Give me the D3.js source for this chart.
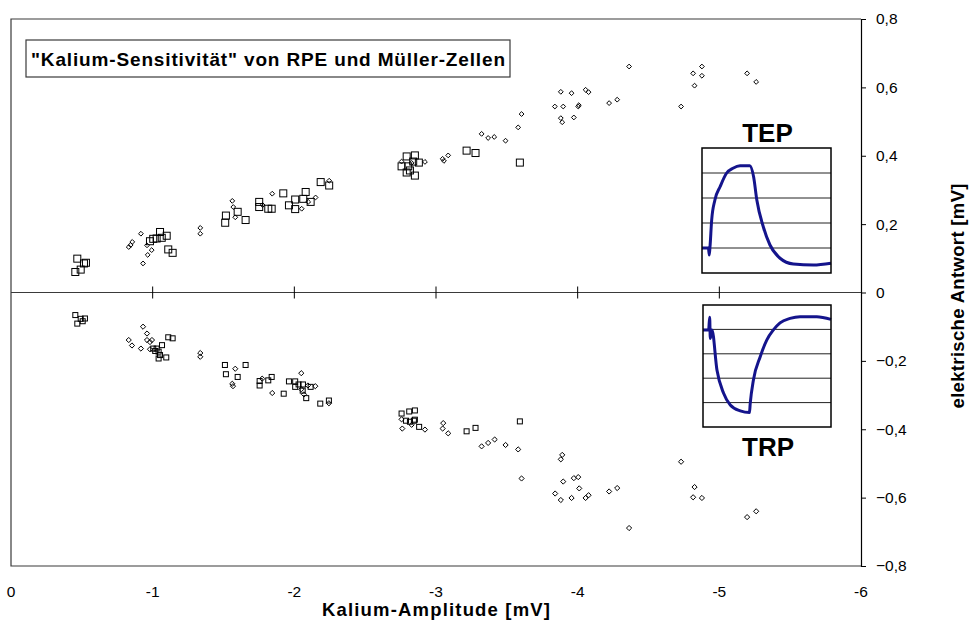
<!DOCTYPE html>
<html>
<head>
<meta charset="utf-8">
<script src="https://cdn.jsdelivr.net/npm/d3@7"></script>
<style>
  body { margin: 0; background: #fff; }
  svg { display: block; }
  text { font-family: "Liberation Sans", Arial, sans-serif; fill: #000; }
</style>
</head>
<body>
<script>
// Kalium amplitude (x, mV) vs. electrical response (y, mV)
// TEP responses (upper half)
const tepSquares = [
  [-0.468, 0.099], [-0.454, 0.060], [-0.492, 0.067], [-0.515, 0.085], [-0.529, 0.087],
  [-1.052, 0.177], [-1.004, 0.157], [-1.028, 0.158], [-1.064, 0.160], [-1.099, 0.166],
  [-0.981, 0.150], [-1.110, 0.126], [-1.141, 0.116], [-1.517, 0.225], [-1.512, 0.204],
  [-1.600, 0.236], [-1.656, 0.212], [-1.752, 0.265], [-1.752, 0.250], [-1.816, 0.245],
  [-1.840, 0.245], [-1.922, 0.290], [-1.962, 0.255], [-2.006, 0.272], [-2.006, 0.244],
  [-2.080, 0.294], [-2.063, 0.274], [-2.115, 0.265], [-2.186, 0.323], [-2.246, 0.313],
  [-2.793, 0.398], [-2.851, 0.401], [-2.757, 0.369], [-2.804, 0.369], [-2.839, 0.383],
  [-2.879, 0.380], [-2.793, 0.351], [-2.851, 0.342], [-2.816, 0.357], [-3.216, 0.415],
  [-3.279, 0.408], [-3.592, 0.380]
];
const tepDiamonds = [
  [-0.917, 0.172], [-0.856, 0.148], [-0.845, 0.139], [-0.831, 0.133], [-0.960, 0.138],
  [-0.993, 0.124], [-0.965, 0.110], [-0.932, 0.085], [-1.336, 0.189], [-1.336, 0.172],
  [-1.562, 0.268], [-1.569, 0.250], [-1.583, 0.220], [-1.844, 0.289], [-1.776, 0.256],
  [-2.150, 0.278], [-2.052, 0.245], [-2.098, 0.265], [-2.246, 0.327], [-2.757, 0.383],
  [-2.828, 0.379], [-2.922, 0.382], [-3.047, 0.391], [-3.056, 0.385], [-3.086, 0.401],
  [-3.322, 0.464], [-3.368, 0.452], [-3.411, 0.455], [-3.491, 0.444], [-3.580, 0.483],
  [-3.604, 0.522], [-3.881, 0.587], [-3.957, 0.583], [-4.056, 0.593], [-4.077, 0.586],
  [-3.839, 0.544], [-3.898, 0.544], [-4.004, 0.544], [-4.008, 0.548], [-3.881, 0.510],
  [-3.891, 0.498], [-3.973, 0.512], [-4.222, 0.554], [-4.279, 0.564], [-4.363, 0.661],
  [-4.815, 0.641], [-4.877, 0.661], [-4.877, 0.634], [-4.825, 0.605], [-4.730, 0.544],
  [-5.196, 0.641], [-5.260, 0.616]
];
// TRP responses (lower half)
const trpSquares = [
  [-0.454, -0.066], [-0.468, -0.091], [-0.492, -0.077], [-0.522, -0.076], [-0.506, -0.084],
  [-1.110, -0.131], [-1.141, -0.134], [-1.066, -0.154], [-1.004, -0.164], [-1.028, -0.164],
  [-1.018, -0.171], [-1.042, -0.173], [-1.052, -0.183], [-1.042, -0.193], [-1.096, -0.190],
  [-1.510, -0.212], [-1.517, -0.239], [-1.656, -0.212], [-1.600, -0.247], [-1.755, -0.259],
  [-1.755, -0.272], [-1.816, -0.257], [-1.840, -0.247], [-1.925, -0.296], [-1.962, -0.260],
  [-2.006, -0.260], [-2.006, -0.276], [-2.030, -0.269], [-2.061, -0.269], [-2.115, -0.276],
  [-2.084, -0.309], [-2.059, -0.287], [-2.183, -0.325], [-2.244, -0.316], [-2.757, -0.354],
  [-2.811, -0.348], [-2.851, -0.345], [-2.788, -0.375], [-2.816, -0.378], [-2.844, -0.375],
  [-2.851, -0.372], [-2.881, -0.393], [-3.216, -0.406], [-3.279, -0.396], [-3.592, -0.377]
];
const trpDiamonds = [
  [-0.932, -0.100], [-0.960, -0.120], [-0.831, -0.139], [-0.854, -0.155], [-0.960, -0.139],
  [-0.981, -0.145], [-0.995, -0.139], [-0.917, -0.164], [-0.981, -0.166], [-1.336, -0.177],
  [-1.336, -0.188], [-1.583, -0.223], [-1.562, -0.267], [-1.567, -0.274], [-1.773, -0.252],
  [-1.844, -0.294], [-2.049, -0.236], [-2.096, -0.272], [-2.148, -0.274], [-2.049, -0.283],
  [-2.068, -0.298], [-2.244, -0.324], [-2.757, -0.371], [-2.762, -0.398], [-2.828, -0.387],
  [-2.922, -0.401], [-3.051, -0.382], [-3.047, -0.398], [-3.086, -0.412], [-3.322, -0.450],
  [-3.368, -0.440], [-3.414, -0.430], [-3.491, -0.446], [-3.580, -0.459], [-3.604, -0.544],
  [-3.891, -0.475], [-3.881, -0.488], [-3.898, -0.553], [-3.973, -0.543], [-4.004, -0.540],
  [-4.011, -0.573], [-3.841, -0.588], [-3.881, -0.607], [-3.957, -0.601], [-4.056, -0.601],
  [-4.077, -0.593], [-4.222, -0.582], [-4.279, -0.572], [-4.363, -0.689], [-4.730, -0.495],
  [-4.825, -0.569], [-4.815, -0.599], [-4.877, -0.601], [-5.196, -0.657], [-5.260, -0.640]
];

// Example traces for the two insets (time in %, amplitude in grid units)
const tepTraceT = [0, 5, 5.6, 6.2, 7.5, 10, 14, 19, 24, 29.5, 37, 40, 42.5, 47.5, 52.7, 60.5, 70.8, 86.3, 100];
const tepTraceV = [1.0, 1.0, 0.72, 1.05, 2.12, 2.92, 3.45, 3.99, 4.19, 4.29, 4.29, 3.85, 2.92, 1.85, 1.12, 0.59, 0.36, 0.32, 0.39];
const trpTraceT = [0, 4.4, 5.2, 5.7, 7, 10.9, 16.1, 21.3, 29.1, 36.3, 36.9, 39.4, 44.7, 49.9, 55, 60.2, 68, 75.8, 88.9, 100];
const trpTraceV = [3.98, 3.98, 4.5, 3.63, 3.98, 2.34, 1.38, 0.9, 0.66, 0.59, 0.97, 1.93, 2.88, 3.57, 3.98, 4.27, 4.45, 4.52, 4.52, 4.41];

const xTicks = [0, -1, -2, -3, -4, -5, -6];
const yTicks = [0.8, 0.6, 0.4, 0.2, 0, -0.2, -0.4, -0.6, -0.8];
const insetGrid = [1, 2, 3, 4];

const chartTitle = "\"Kalium-Sensitivität\" von RPE und Müller-Zellen";
const xTitle = "Kalium-Amplitude [mV]";
const yTitle = "elektrische Antwort [mV]";

// Size of the page and plot area
const W = 970, H = 635;
const plot = { left: 11, right: 861, top: 19, bottom: 566 };

const svg = d3.select("body")
    .append("svg")
    .attr("width", W)
    .attr("height", H);

const x = d3.scaleLinear().domain([0, -6]).range([plot.left, plot.right]);
const y = d3.scaleLinear().domain([-0.8, 0.8]).range([plot.bottom, plot.top]);

// Plot frame (left, top, bottom)
svg.append("path")
    .attr("d", `M${plot.right},${plot.top}H${plot.left}V${plot.bottom}H${plot.right}`)
    .attr("fill", "none")
    .attr("stroke", "#3a3a3a")
    .attr("stroke-width", 1.2);

// Right value axis
const yAxis = svg.append("g")
    .attr("transform", `translate(${plot.right},0)`)
    .call(d3.axisRight(y).tickValues(yTicks).tickSize(5).tickPadding(10)
        .tickFormat(d => Math.abs(d) < 1e-9 ? "0" : d3.format(".1f")(d).replace(".", ",")));
yAxis.select(".domain").attr("stroke", "#000").attr("stroke-width", 1.2);
yAxis.selectAll(".tick line").attr("stroke", "#000");
yAxis.selectAll("text")
    .style("font-family", "'Liberation Sans', Arial, sans-serif")
    .style("font-size", "15.5px")
    .attr("fill", "#000");

// Zero line with crossing ticks
const xAxis = svg.append("g")
    .attr("transform", `translate(0,${y(0)})`);
xAxis.append("line")
    .attr("x1", plot.left).attr("x2", plot.right)
    .attr("stroke", "#3a3a3a").attr("stroke-width", 1.2);
xAxis.selectAll("line.tk")
    .data(xTicks.slice(1, -1))
    .enter()
    .append("line")
    .attr("class", "tk")
    .attr("x1", d => x(d)).attr("x2", d => x(d))
    .attr("y1", -6).attr("y2", 6)
    .attr("stroke", "#000");

// Category labels below the plot
svg.append("g")
    .selectAll("text")
    .data(xTicks)
    .enter()
    .append("text")
    .attr("x", d => x(d))
    .attr("y", 597)
    .attr("text-anchor", "middle")
    .style("font-size", "15.5px")
    .text(d => d === 0 ? "0" : String(d));

// Markers
const diamond = (cx, cy, r) => `M${cx},${cy - r}L${cx + r},${cy}L${cx},${cy + r}L${cx - r},${cy}Z`;

function drawSquares(data, size) {
    svg.append("g")
        .selectAll("rect")
        .data(data)
        .enter()
        .append("rect")
        .attr("x", d => x(d[0]) - size / 2)
        .attr("y", d => y(d[1]) - size / 2)
        .attr("width", size)
        .attr("height", size)
        .attr("fill", "none")
        .attr("stroke", "#000")
        .attr("stroke-width", 1);
}

function drawDiamonds(data, r) {
    svg.append("g")
        .selectAll("path")
        .data(data)
        .enter()
        .append("path")
        .attr("d", d => diamond(x(d[0]), y(d[1]), r))
        .attr("fill", "none")
        .attr("stroke", "#000")
        .attr("stroke-width", 1);
}

drawSquares(tepSquares, 7);
drawDiamonds(tepDiamonds, 2.4);
drawSquares(trpSquares, 5);
drawDiamonds(trpDiamonds, 2.6);

// Title box
const titleG = svg.append("g");
titleG.append("rect")
    .attr("x", 26).attr("y", 40)
    .attr("width", 484).attr("height", 37)
    .attr("fill", "#fff")
    .attr("stroke", "#3a3a3a")
    .attr("stroke-width", 1.2);
titleG.append("text")
    .attr("x", 31).attr("y", 65.5)
    .attr("textLength", 474)
    .attr("lengthAdjust", "spacing")
    .style("font-size", "19px")
    .style("font-weight", "bold")
    .text(chartTitle);

// Axis titles
svg.append("text")
    .attr("x", 322).attr("y", 616)
    .attr("textLength", 228)
    .attr("lengthAdjust", "spacing")
    .style("font-size", "18.5px")
    .style("font-weight", "bold")
    .text(xTitle);

svg.append("text")
    .attr("transform", "translate(964,296) rotate(-90)")
    .attr("text-anchor", "middle")
    .attr("textLength", 225)
    .attr("lengthAdjust", "spacing")
    .style("font-size", "18.5px")
    .style("font-weight", "bold")
    .text(yTitle);

// Inset with an example trace
function drawInset(box, tArr, vArr, label, labelY) {
    const ix = d3.scaleLinear().domain([0, 100]).range([box.x0, box.x1]);
    const iy = d3.scaleLinear().domain([0, 5]).range([box.y1, box.y0]);
    const g = svg.append("g");
    g.append("rect")
        .attr("x", box.x0).attr("y", box.y0)
        .attr("width", box.x1 - box.x0).attr("height", box.y1 - box.y0)
        .attr("fill", "#fff");
    g.selectAll("line.grid")
        .data(insetGrid)
        .enter()
        .append("line")
        .attr("class", "grid")
        .attr("x1", box.x0).attr("x2", box.x1)
        .attr("y1", d => iy(d)).attr("y2", d => iy(d))
        .attr("stroke", "#222")
        .attr("stroke-width", 1);
    const pts = tArr.map((t, i) => [t, vArr[i]]);
    g.append("path")
        .datum(pts)
        .attr("d", d3.line().x(d => ix(d[0])).y(d => iy(d[1])).curve(d3.curveMonotoneX))
        .attr("fill", "none")
        .attr("stroke", "#14148c")
        .attr("stroke-width", 3)
        .attr("stroke-linejoin", "round");
    g.append("rect")
        .attr("x", box.x0).attr("y", box.y0)
        .attr("width", box.x1 - box.x0).attr("height", box.y1 - box.y0)
        .attr("fill", "none")
        .attr("stroke", "#000")
        .attr("stroke-width", 1.5);
    g.append("text")
        .attr("x", (box.x0 + box.x1) / 2 + 1)
        .attr("y", labelY)
        .attr("text-anchor", "middle")
        .style("font-size", "26px")
        .style("font-weight", "bold")
        .text(label);
}

drawInset({ x0: 702, x1: 831, y0: 148, y1: 273 }, tepTraceT, tepTraceV, "TEP", 142);
drawInset({ x0: 703, x1: 831, y0: 305, y1: 427 }, trpTraceT, trpTraceV, "TRP", 456);
</script>
</body>
</html>
